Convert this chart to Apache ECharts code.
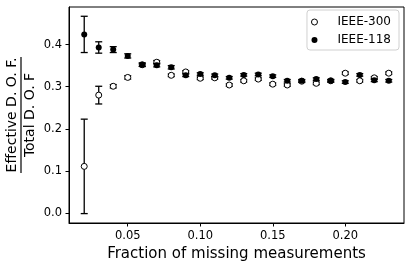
<!DOCTYPE html>
<html>
<head>
<meta charset="utf-8">
<script src="https://cdn.jsdelivr.net/npm/echarts@6/dist/echarts.min.js"></script>
<style>html,body{margin:0;padding:0;background:#fff}#c{width:411px;height:270px}</style>
</head>
<body>
<div id="c"></div>
<script>
var fractions = [0.02,0.03,0.04,0.05,0.06,0.07,0.08,0.09,0.10,0.11,0.12,0.13,0.14,0.15,0.16,0.17,0.18,0.19,0.20,0.21,0.22,0.23];
var ieee300 = [0.111,0.280,0.301,0.322,0.352,0.358,0.327,0.335,0.320,0.321,0.304,0.314,0.318,0.306,0.304,0.313,0.308,0.314,0.332,0.314,0.321,0.332];
var ieee300Err = [0.112,0.021,0.004,0.004,0.004,0.004,0.003,0.003,0.003,0.003,0.003,0.003,0.003,0.003,0.003,0.003,0.003,0.003,0.003,0.003,0.003,0.003];
var ieee118 = [0.424,0.393,0.388,0.373,0.352,0.351,0.346,0.327,0.330,0.327,0.321,0.328,0.329,0.325,0.314,0.314,0.318,0.314,0.311,0.328,0.315,0.314];
var ieee118Err = [0.043,0.0135,0.007,0.005,0.004,0.004,0.004,0.003,0.003,0.003,0.003,0.003,0.003,0.003,0.003,0.003,0.003,0.003,0.003,0.003,0.003,0.003];
var xTicks = [0.05,0.10,0.15,0.20];
var yTicks = [0.0,0.1,0.2,0.3,0.4];

var FONT = 'DejaVu Sans';
function pts(v){ return fractions.map(function(x,i){ return [x, v[i]]; }); }
function errs(v,e){ return fractions.map(function(x,i){ return [x, v[i]-e[i], v[i]+e[i]]; }); }
function errRender(params, api){
  var lo = api.coord([api.value(0), api.value(1)]);
  var hi = api.coord([api.value(0), api.value(2)]);
  var hw = 3.5;
  var st = {stroke:'#000', lineWidth:1.3};
  return {type:'group', children:[
    {type:'line', shape:{x1:lo[0],y1:lo[1],x2:hi[0],y2:hi[1]}, style:st},
    {type:'line', shape:{x1:lo[0]-hw,y1:lo[1],x2:lo[0]+hw,y2:lo[1]}, style:st},
    {type:'line', shape:{x1:hi[0]-hw,y1:hi[1],x2:hi[0]+hw,y2:hi[1]}, style:st}
  ]};
}
var chart = echarts.init(document.getElementById('c'), null, {renderer:'canvas'});
chart.setOption({
  animation:false,
  backgroundColor:'#fff',
  grid:{left:69, right:7, top:7, bottom:47, show:true, borderColor:'#000', borderWidth:1, backgroundColor:'transparent'},
  legend:{
    right:12, top:10, orient:'vertical',
    padding:[6,8,4,4], itemGap:6,
    itemWidth:20, itemHeight:6,
    borderColor:'#d0d0d0', borderWidth:1, borderRadius:3, backgroundColor:'#fff',
    textStyle:{fontFamily:FONT, fontSize:12, color:'#000', padding:[0,0,0,8]},
    data:[
      {name:'IEEE-300', icon:'circle', itemStyle:{color:'#fff', borderColor:'#000', borderWidth:1}},
      {name:'IEEE-118', icon:'circle', itemStyle:{color:'#000', borderWidth:0}}
    ]
  },
  xAxis:{
    type:'value', min:0.0095, max:0.2405,
    name:'Fraction of missing measurements', nameLocation:'middle', nameGap:24,
    nameTextStyle:{fontFamily:FONT, fontSize:15, color:'#000'},
    axisLine:{show:true, onZero:false, lineStyle:{color:'#000'}},
    axisTick:{show:true, length:3.5, customValues:xTicks, lineStyle:{color:'#000'}},
    axisLabel:{show:true, customValues:xTicks, margin:7, fontFamily:FONT, fontSize:11.5, color:'#000',
      formatter:function(v){ return v.toFixed(2); }},
    splitLine:{show:false}
  },
  yAxis:{
    type:'value', min:-0.0233, max:0.489,
    axisLine:{show:true, onZero:false, lineStyle:{color:'#000'}},
    axisTick:{show:true, length:3.5, customValues:yTicks, lineStyle:{color:'#000'}},
    axisLabel:{show:true, customValues:yTicks, margin:7, fontFamily:FONT, fontSize:11.5, color:'#000',
      formatter:function(v){ return v.toFixed(1); }},
    splitLine:{show:false}
  },
  graphic:[{
    type:'group', x:21, y:115, rotation:Math.PI/2,
    children:[
      {type:'text', x:0, y:-9, style:{text:'Effective D. O. F.', fontFamily:FONT, fontSize:14, fill:'#000', align:'center', verticalAlign:'middle'}},
      {type:'line', shape:{x1:-58,y1:0,x2:58,y2:0}, style:{stroke:'#000', lineWidth:1.2}},
      {type:'text', x:0, y:9, style:{text:'Total D. O. F', fontFamily:FONT, fontSize:14, fill:'#000', align:'center', verticalAlign:'middle'}}
    ]
  }],
  series:[
    {type:'custom', name:'err300', renderItem:errRender, data:errs(ieee300, ieee300Err), encode:{x:0,y:[1,2]}, z:2, silent:true},
    {type:'scatter', name:'IEEE-300', data:pts(ieee300), symbol:'circle', symbolSize:6,
      itemStyle:{color:'#fff', borderColor:'#000', borderWidth:1, opacity:1}, z:3},
    {type:'custom', name:'err118', renderItem:errRender, data:errs(ieee118, ieee118Err), encode:{x:0,y:[1,2]}, z:4, silent:true},
    {type:'scatter', name:'IEEE-118', data:pts(ieee118), symbol:'circle', symbolSize:6,
      itemStyle:{color:'#000', borderWidth:0, opacity:1}, z:5}
  ]
});
</script>
</body>
</html>
